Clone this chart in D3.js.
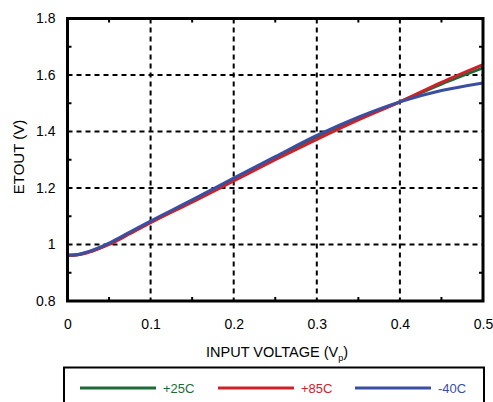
<!DOCTYPE html>
<html><head><meta charset="utf-8">
<script src="https://cdn.jsdelivr.net/npm/d3@7/dist/d3.min.js"></script>
<style>body{margin:0;background:#fff;}svg{display:block;font-family:"Liberation Sans",Arial,sans-serif;}</style>
</head><body><svg id="c" width="493" height="402"></svg>
<script>
const xVals = [0, 0.01, 0.025, 0.05, 0.075, 0.1, 0.15, 0.2, 0.25, 0.3, 0.35, 0.4, 0.45, 0.5];
const s25 = [0.962, 0.963, 0.973, 1.002, 1.04, 1.079, 1.153, 1.229, 1.304, 1.378, 1.445, 1.505, 1.568, 1.625];
const s85 = [0.962, 0.963, 0.972, 1.0, 1.038, 1.077, 1.15, 1.225, 1.3, 1.372, 1.441, 1.505, 1.574, 1.637];
const sM40 = [0.962, 0.964, 0.975, 1.005, 1.044, 1.083, 1.158, 1.235, 1.311, 1.386, 1.451, 1.505, 1.545, 1.572];
const seriesNames = ["+25C", "+85C", "-40C"];
const seriesColors = ["#1e6b3a", "#cc2229", "#3a4fa3"];
const xTicks = [0, 0.1, 0.2, 0.3, 0.4, 0.5];
const yTicks = [0.8, 1, 1.2, 1.4, 1.6, 1.8];
const xMinor = [0.05, 0.15, 0.25, 0.35, 0.45];
const yMinor = [0.9, 1.1, 1.3, 1.5, 1.7];

const svg = d3.select("#c");
const L = 67.5, R = 483, T = 18.5, B = 301;
const x = d3.scaleLinear().domain([0, 0.5]).range([L, R]);
const y = d3.scaleLinear().domain([0.8, 1.8]).range([B, T]);
const FONT = "Liberation Sans, Arial, sans-serif";

const g = svg.append("g");
// gridlines
g.selectAll(".gx").data(xTicks.slice(1, -1)).enter().append("line")
  .attr("x1", d => x(d)).attr("x2", d => x(d)).attr("y1", T).attr("y2", B)
  .attr("stroke", "#000").attr("stroke-width", 2).attr("stroke-dasharray", "5,4");
g.selectAll(".gy").data(yTicks.slice(1, -1)).enter().append("line")
  .attr("y1", d => y(d)).attr("y2", d => y(d)).attr("x1", L).attr("x2", R)
  .attr("stroke", "#000").attr("stroke-width", 2).attr("stroke-dasharray", "5,4");

// minor ticks (inward)
const tl = 4;
xMinor.forEach(v => {
  g.append("line").attr("x1", x(v)).attr("x2", x(v)).attr("y1", B).attr("y2", B - tl).attr("stroke", "#000").attr("stroke-width", 2);
  g.append("line").attr("x1", x(v)).attr("x2", x(v)).attr("y1", T).attr("y2", T + tl).attr("stroke", "#000").attr("stroke-width", 2);
});
yMinor.forEach(v => {
  g.append("line").attr("y1", y(v)).attr("y2", y(v)).attr("x1", L).attr("x2", L + tl).attr("stroke", "#000").attr("stroke-width", 2);
  g.append("line").attr("y1", y(v)).attr("y2", y(v)).attr("x1", R).attr("x2", R - tl).attr("stroke", "#000").attr("stroke-width", 2);
});

// curves
const line = d3.line().x(d => x(d[0])).y(d => y(d[1])).curve(d3.curveMonotoneX);
[s25, s85, sM40].forEach((s, i) => {
  g.append("path").datum(xVals.map((v, k) => [v, s[k]]))
    .attr("d", line).attr("fill", "none").attr("stroke", seriesColors[i]).attr("stroke-width", 3);
});

// frame
g.append("rect").attr("x", L).attr("y", T).attr("width", R - L).attr("height", B - T)
  .attr("fill", "none").attr("stroke", "#000").attr("stroke-width", 3);

// tick labels
const xAxis = d3.axisBottom(x).tickValues(xTicks).tickSize(0).tickPadding(18)
  .tickFormat(d => d === 0 ? "0" : d3.format(".1f")(d));
svg.append("g").attr("transform", `translate(0,${B})`).call(xAxis)
  .call(a => a.select(".domain").remove())
  .selectAll("text").attr("font-size", 14).attr("fill", "#000").attr("font-family", FONT);
const yAxis = d3.axisLeft(y).tickValues(yTicks).tickSize(0).tickPadding(12)
  .tickFormat(d => (d === 1) ? "1" : d3.format(".1f")(d));
svg.append("g").attr("transform", `translate(${L},0)`).call(yAxis)
  .call(a => a.select(".domain").remove())
  .selectAll("text").attr("font-size", 14).attr("fill", "#000").attr("font-family", FONT);

// axis titles
svg.append("text").attr("transform", "translate(23.5,157) rotate(-90)").attr("text-anchor", "middle")
  .attr("font-size", 15).text("ETOUT (V)");
const xt = svg.append("text").attr("x", 277).attr("y", 357).attr("text-anchor", "middle").attr("font-size", 14.5);
xt.append("tspan").text("INPUT VOLTAGE (V");
xt.append("tspan").attr("font-size", 9).attr("dy", 4).text("p");
xt.append("tspan").attr("dy", -4).text(")");

// legend
svg.append("rect").attr("x", 64).attr("y", 367.5).attr("width", 420).attr("height", 40)
  .attr("fill", "none").attr("stroke", "#000").attr("stroke-width", 2);
const legX = [80, 218, 355];
seriesNames.forEach((n, i) => {
  svg.append("line").attr("x1", legX[i]).attr("x2", legX[i] + 76).attr("y1", 388).attr("y2", 388)
    .attr("stroke", seriesColors[i]).attr("stroke-width", 3);
  svg.append("text").attr("x", legX[i] + 83).attr("y", 392.5).attr("font-size", 13)
    .attr("fill", seriesColors[i]).text(n);
});
</script></body></html>
